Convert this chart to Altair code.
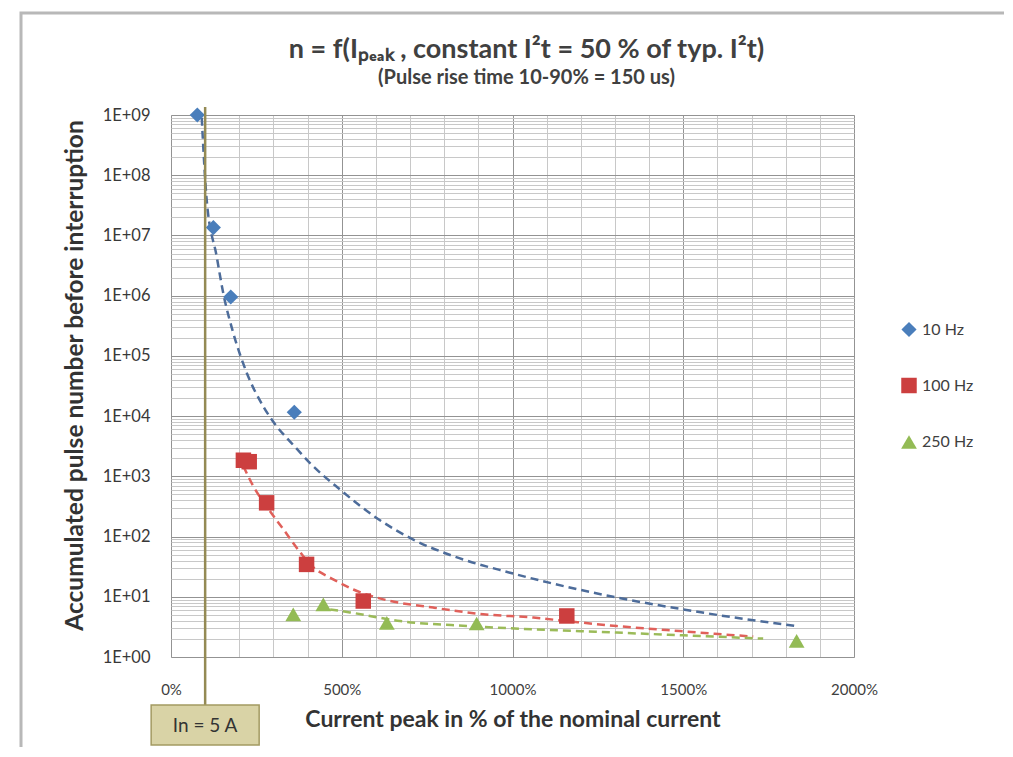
import altair as alt
import pandas as pd

FONT = "Lato"
TXT = "#404040"

series_names = ["10 Hz", "100 Hz", "250 Hz"]
marker_colors = ["#4a7ebb", "#cc3f3f", "#93bb55"]
marker_shapes = ["diamond", "square", "triangle-up"]
marker_sizes = [230, 250, 300]

# measured points (x in % of nominal current, y = pulse number)
p10_x = [77, 124, 175, 361]
p10_y = [1.0e9, 1.35e7, 9.5e5, 1.16e4]
p100_x = [212, 229, 280, 397, 563, 1159]
p100_y = [1850, 1750, 363, 34.5, 8.5, 4.8]
p250_x = [358, 446, 632, 895, 1832]
p250_y = [5.1, 7.5, 3.7, 3.6, 1.85]

# dashed trend curves
c10_x = [90, 104.5, 133.8, 153, 182.4, 221.7, 270.3, 309.5, 343.5, 368, 407, 495,
         602, 709.5, 826.6, 992.7, 1109.8, 1275.8, 1500, 1685.8, 1832]
c10_y = [9.0e8, 3.89e7, 4.47e6, 1.10e6, 2.40e5, 5.25e4, 1.45e4, 6.76e3, 4.07e3, 2.88e3,
         1.66e3, 603, 204, 89, 47.3, 25.1, 17.0, 10.5, 6.17, 4.22, 3.27]
c100_x = [212, 241, 280, 329, 378, 407, 475, 534, 622, 768, 914, 1061, 1159, 1305, 1490, 1705]
c100_y = [1470, 686, 316, 132, 55, 34.7, 19.5, 13.2, 9.06, 6.61, 5.13, 4.51, 3.95, 3.27, 2.69, 2.18]
c250_x = [466, 524, 671, 866, 1061, 1305, 1500, 1734]
c250_y = [6.17, 5.50, 3.95, 3.27, 2.88, 2.54, 2.29, 2.02]
curve_colors = ["#4d6c9a", "#e0605a", "#9bbb59"]

nominal_x = [100]
nominal_label = ["In = 5 A"]

title_text = ["n = f(Iₚₑₐₖ , constant I²t = 50 % of typ. I²t)"]
subtitle_text = ["(Pulse rise time 10-90% = 150 us)"]

x_ticks = list(range(0, 2001, 100))
y_ticks = [m * 10 ** k for k in range(9) for m in range(1, 10)] + [10 ** 9]

W, H = 683, 542

xscale = alt.Scale(domain=[0, 2000], nice=False, zero=False)
yscale = alt.Scale(type="log", domain=[1, 1e9], nice=False)

decade = "abs(log(datum.value)/LN10 - round(log(datum.value)/LN10)) < 0.001"
MINOR, MAJOR = "#c8c8c8", "#939393"

x_axis = alt.Axis(
    values=x_ticks, grid=True, ticks=False, domain=False, orient="bottom",
    gridColor={"condition": {"test": "datum.value % 500 == 0", "value": MAJOR}, "value": MINOR},
    labelExpr="datum.value % 500 == 0 ? datum.value + '%' : ''",
    labelPadding=25, labelFont=FONT, labelFontSize=15, labelColor=TXT, labelOverlap=False,
    labelFlush=False,
    title="Current peak in % of the nominal current", titleFont=FONT, titleFontSize=23,
    titleFontWeight="bold", titleColor="#333333", titleY=62, titleBaseline="middle",
)
y_axis = alt.Axis(
    values=y_ticks, grid=True, ticks=False, domain=False, orient="left",
    gridColor={"condition": {"test": decade, "value": MAJOR}, "value": MINOR},
    labelExpr=f"({decade}) ? '1E+0' + round(log(datum.value)/LN10) : ''",
    labelPadding=21, labelFont=FONT, labelFontSize=16.5, labelColor="#383838", labelOverlap=False,
    labelFlush=False,
    title="Accumulated pulse number before interruption", titleFont=FONT, titleFontSize=24.5,
    titleFontWeight="bold", titleColor="#333333", titleX=-96, titleY=260,
    titleAngle=-90, titleAlign="center", titleBaseline="middle",
)

X = alt.X("x:Q", scale=xscale, axis=x_axis)
Y = alt.Y("y:Q", scale=yscale, axis=y_axis)

pts = pd.DataFrame({
    "x": p10_x + p100_x + p250_x,
    "y": p10_y + p100_y + p250_y,
    "series": [series_names[0]] * len(p10_x) + [series_names[1]] * len(p100_x) + [series_names[2]] * len(p250_x),
})

leg = dict(title=None, orient="none", legendX=729, legendY=206, labelFont=FONT,
           labelFontSize=16, labelColor=TXT, rowPadding=39, symbolSize=120, padding=0,
           labelOffset=4)

points = alt.Chart(pts).mark_point(filled=True, opacity=1, strokeWidth=0).encode(
    x=X, y=Y,
    color=alt.Color("series:N", scale=alt.Scale(domain=series_names, range=marker_colors),
                    legend=alt.Legend(**leg)),
    shape=alt.Shape("series:N", scale=alt.Scale(domain=series_names, range=marker_shapes),
                    legend=alt.Legend(**leg)),
    size=alt.Size("series:N", scale=alt.Scale(domain=series_names, range=marker_sizes), legend=None),
)


def curve(xs, ys, color):
    df = pd.DataFrame({"x": xs, "y": ys})
    return alt.Chart(df).mark_line(color=color, strokeDash=[8, 5], strokeWidth=2.5,
                                   interpolate="monotone").encode(x=X, y=Y)


lines = [curve(c10_x, c10_y, curve_colors[0]),
         curve(c100_x, c100_y, curve_colors[1]),
         curve(c250_x, c250_y, curve_colors[2])]

nom = pd.DataFrame({"x": nominal_x, "label": nominal_label})

nominal_rule = alt.Chart(nom).mark_rule(color="#948a54", strokeWidth=2.5).encode(
    x=X, y=alt.value(-8), y2=alt.value(592),
)
nominal_box = alt.Chart(nom).mark_rect(
    xOffset=-54, x2Offset=54, fill="#d9d3a6", stroke="#a39a62", strokeWidth=1.5
).encode(
    x=X, x2="x:Q", y=alt.value(590), y2=alt.value(630),
)
nominal_text = alt.Chart(nom).mark_text(font=FONT, fontSize=19, color="#333333").encode(
    x=X, y=alt.value(611), text="label:N",
)

frame = alt.Chart(nom).mark_rect(fillOpacity=0, stroke="#b8b8b8", strokeWidth=3).encode(
    x=alt.value(-150), x2=alt.value(W + 300), y=alt.value(-102), y2=alt.value(H + 300),
)

title_df = pd.DataFrame({"t": title_text})
subtitle_df = pd.DataFrame({"t": subtitle_text})
title_mark = alt.Chart(title_df).mark_text(
    font=FONT, fontSize=27, fontWeight="bold", color=TXT, baseline="middle"
).encode(x=alt.value(W / 2 + 14), y=alt.value(-65), text="t:N")
subtitle_mark = alt.Chart(subtitle_df).mark_text(
    font=FONT, fontSize=20, fontWeight="bold", color=TXT, baseline="middle"
).encode(x=alt.value(W / 2 + 14), y=alt.value(-37), text="t:N")

chart = alt.layer(
    frame, *lines, points, nominal_rule, nominal_box, nominal_text, title_mark, subtitle_mark
).properties(
    width=W, height=H,
    autosize=alt.AutoSizeParams(type="none"),
    padding={"left": 163, "top": 107, "right": 150, "bottom": 90},
).configure_view(stroke="#8f8f8f", strokeWidth=1).configure(background="white")

chart.save("out.html", embed_options={"renderer": "svg", "actions": False})
